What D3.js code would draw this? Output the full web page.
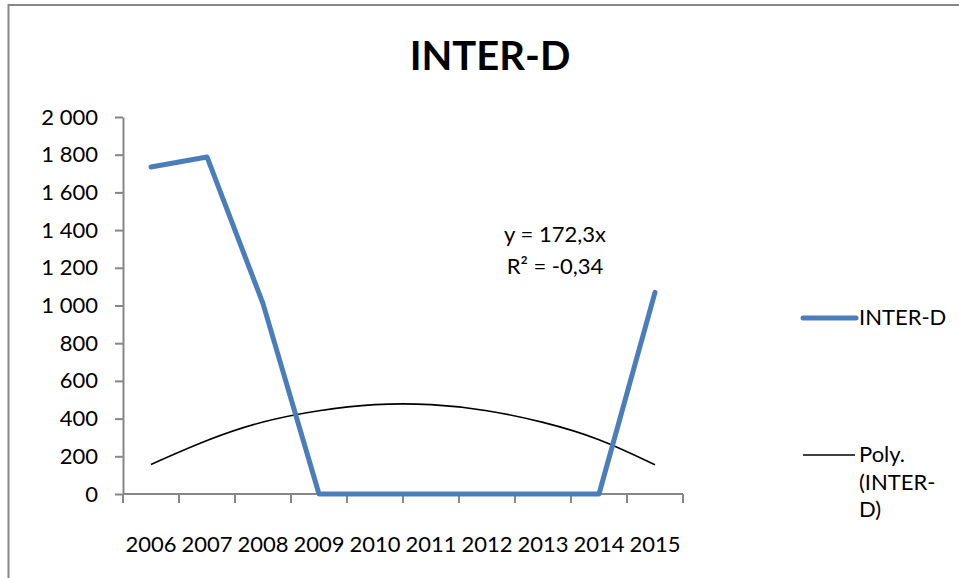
<!DOCTYPE html>
<html>
<head>
<meta charset="utf-8">
<script src="https://cdn.jsdelivr.net/npm/d3@7"></script>
<style>
  html, body { margin: 0; padding: 0; background: #fff; }
  svg { display: block; font-family: Lato, "Open Sans", sans-serif; }
</style>
</head>
<body>
<svg id="chart" width="959" height="578"></svg>
<script>
// Yearly values of the INTER-D series
const years = ["2006", "2007", "2008", "2009", "2010", "2011", "2012", "2013", "2014", "2015"];
const interD = [1735, 1788, 1010, 0, 0, 0, 0, 0, 0, 1070];
// Second-order polynomial trend of the series, one value per year
const polyTrend = [157, 284, 382, 442, 474, 474, 442, 380, 288, 155];
const yTicks = [0, 200, 400, 600, 800, 1000, 1200, 1400, 1600, 1800, 2000];
const equationLines = ["y = 172,3x", "R\u00B2 = -0,34"];
const title = "INTER-D";
const legendSeries = ["INTER-D"];
const legendTrend = ["Poly.", "(INTER-", "D)"];

const svg = d3.select("#chart");
const plot = { left: 123, right: 683, top: 117, bottom: 494 };
const axisColor = "#878787";
const blue = "#4a7ebb";
const labelSize = 22;

// chart frame
svg.append("rect")
  .attr("x", 8.5).attr("y", 5).attr("width", 1000).attr("height", 1000)
  .attr("fill", "none").attr("stroke", axisColor).attr("stroke-width", 2);

svg.append("text")
  .attr("x", 490).attr("y", 70)
  .attr("text-anchor", "middle")
  .attr("font-size", 40).attr("font-weight", 700)
  .attr("fill", "#000")
  .text(title);

const x = d3.scaleBand().domain(years).range([plot.left, plot.right]);
const y = d3.scaleLinear().domain([0, 2000]).range([plot.bottom, plot.top]);
const fmt = v => d3.format(",")(v).replace(/,/g, " ");

// y axis
const yAxis = svg.append("g")
  .attr("transform", `translate(${plot.left},0)`)
  .call(d3.axisLeft(y).tickValues(yTicks).tickSize(8).tickSizeOuter(0).tickPadding(17).tickFormat(fmt));
yAxis.select(".domain").attr("stroke", axisColor).attr("stroke-width", 2);
yAxis.selectAll(".tick line").attr("stroke", axisColor).attr("stroke-width", 2);
yAxis.selectAll(".tick text").attr("font-size", labelSize).attr("fill", "#000")
  .attr("font-family", "Lato, sans-serif");

// x axis: ticks sit on category boundaries
const xAxis = svg.append("g")
  .attr("transform", `translate(0,${plot.bottom})`);
xAxis.append("line")
  .attr("x1", plot.left).attr("x2", plot.right)
  .attr("stroke", axisColor).attr("stroke-width", 2);
const boundaries = years.map(d => x(d)).concat([x(years[years.length - 1]) + x.bandwidth()]);
xAxis.selectAll("line.tick")
  .data(boundaries)
  .join("line")
  .attr("class", "tick")
  .attr("x1", d => d).attr("x2", d => d)
  .attr("y1", 0).attr("y2", 9)
  .attr("stroke", axisColor).attr("stroke-width", 2);
xAxis.selectAll("text")
  .data(years)
  .join("text")
  .attr("x", d => x(d) + x.bandwidth() / 2)
  .attr("y", 58)
  .attr("text-anchor", "middle")
  .attr("font-size", labelSize)
  .attr("fill", "#000")
  .text(d => d);

const cx = (d, i) => x(years[i]) + x.bandwidth() / 2;

// trend line
svg.append("path")
  .datum(polyTrend)
  .attr("fill", "none")
  .attr("stroke", "#000")
  .attr("stroke-width", 1.6)
  .attr("d", d3.line().x(cx).y(d => y(d)).curve(d3.curveNatural));

// series line
svg.append("path")
  .datum(interD)
  .attr("fill", "none")
  .attr("stroke", blue)
  .attr("stroke-width", 5)
  .attr("stroke-linejoin", "round")
  .attr("stroke-linecap", "round")
  .attr("d", d3.line().x(cx).y(d => y(d)));

// trend equation
svg.append("g").selectAll("text")
  .data(equationLines)
  .join("text")
  .attr("x", 555)
  .attr("y", (d, i) => 242 + i * 32)
  .attr("text-anchor", "middle")
  .attr("font-size", labelSize)
  .attr("fill", "#000")
  .text(d => d);

// legend
const legend = svg.append("g");
legend.append("line")
  .attr("x1", 803).attr("x2", 856).attr("y1", 318).attr("y2", 318)
  .attr("stroke", blue).attr("stroke-width", 5).attr("stroke-linecap", "round");
legend.selectAll("text.series")
  .data(legendSeries)
  .join("text")
  .attr("class", "series")
  .attr("x", 859).attr("y", 325)
  .attr("font-size", labelSize).attr("fill", "#000")
  .text(d => d);
legend.append("line")
  .attr("x1", 803).attr("x2", 855).attr("y1", 455).attr("y2", 455)
  .attr("stroke", "#000").attr("stroke-width", 1.6);
legend.selectAll("text.trend")
  .data(legendTrend)
  .join("text")
  .attr("class", "trend")
  .attr("x", 859)
  .attr("y", (d, i) => 462 + i * 27.5)
  .attr("font-size", labelSize).attr("fill", "#000")
  .text(d => d);
</script>
</body>
</html>
